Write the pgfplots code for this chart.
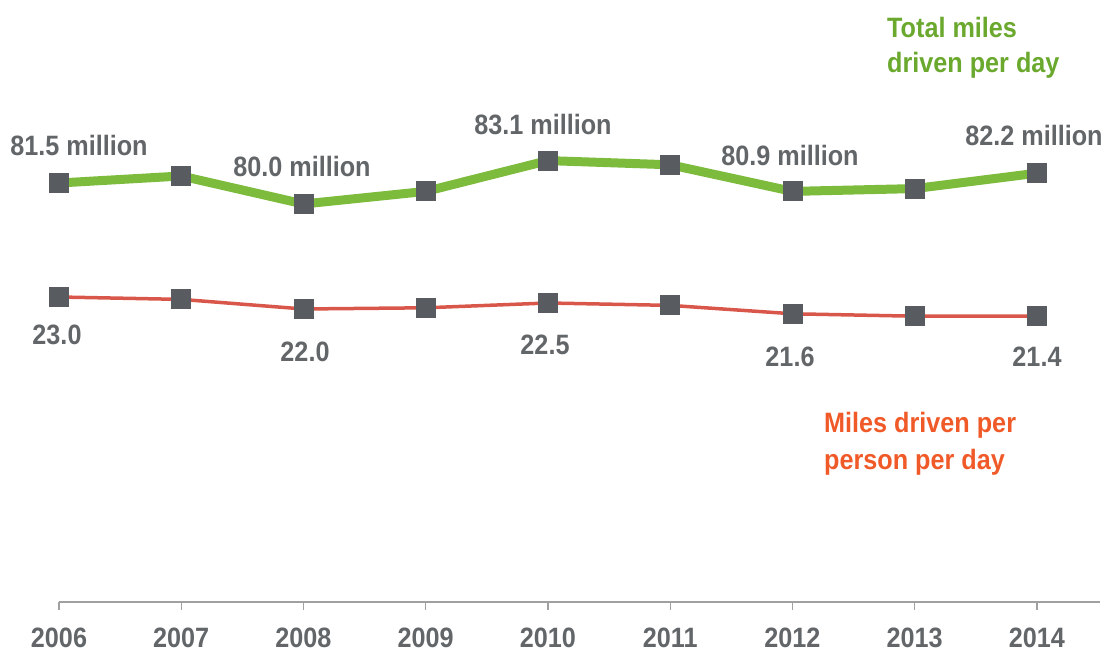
\documentclass[border=0pt]{standalone}
\usepackage{pgfplots}
\pgfplotsset{compat=1.18}
\usepackage{fontspec}
\setmainfont{Liberation Sans}[FakeStretch=0.9]
\definecolor{gline}{HTML}{7CBB3C}
\definecolor{gtext}{HTML}{6AA82E}
\definecolor{rline}{HTML}{D9574A}
\definecolor{otext}{HTML}{F05A28}
\definecolor{mk}{HTML}{585C60}
\definecolor{lbl}{HTML}{636669}
\definecolor{axc}{HTML}{A0A0A0}
\begin{document}
\begin{tikzpicture}[x=1pt,y=1pt]
\useasboundingbox (-59,-55) rectangle (1047,602);
\begin{axis}[
  at={(0,0)}, anchor=south west,
  scale only axis, width=1041pt, height=602pt,
  xmin=2006, xmax=2014.515,
  ymin=51.571, ymax=94.571,
  axis y line=none,
  axis x line*=bottom,
  x axis line style={axc, line width=1.6pt, -},
  xtick={2006,...,2014},
  xticklabels={2006,2007,2008,2009,2010,2011,2012,2013,2014},
  tick align=outside,
  major tick length=8pt,
  xtick style={axc, line width=1.2pt},
  xticklabel style={font=\fontsize{28}{30}\selectfont\bfseries, text=lbl, yshift=-14pt},
  clip=false,
]
\addplot[gline, line width=9pt, mark=square*, mark size=9.5pt, mark options={mk, fill=mk, line width=0pt, draw=mk}]
 coordinates {(2006,81.5) (2007,82.0) (2008,80.0) (2009,80.9) (2010,83.1) (2011,82.8) (2012,80.9) (2013,81.1) (2014,82.2)};
\end{axis}
\begin{axis}[
  at={(0,0)}, anchor=south west,
  scale only axis, width=1041pt, height=602pt,
  xmin=2006, xmax=2014.515,
  ymin=-2.417, ymax=47.75,
  hide axis,
  clip=false,
]
\addplot[rline, line width=3.5pt, mark=square*, mark size=9.5pt, mark options={mk, fill=mk, line width=0pt, draw=mk}]
 coordinates {(2006,23.0) (2007,22.8) (2008,22.0) (2009,22.1) (2010,22.5) (2011,22.3) (2012,21.6) (2013,21.4) (2014,21.4)};
\end{axis}
\begin{scope}[every node/.style={font=\fontsize{28}{30}\selectfont\bfseries, text=lbl, inner sep=0pt}]
\node at (20,457) {81.5 million};
\node at (243,436) {80.0 million};
\node at (484,477) {83.1 million};
\node at (731,447) {80.9 million};
\node at (975,467) {82.2 million};
\node at (-2,267) {23.0};
\node at (246,250) {22.0};
\node at (486,257) {22.5};
\node at (731,245) {21.6};
\node at (978,245) {21.4};
\node[anchor=west, text=gtext] at (828,575) {Total miles};
\node[anchor=west, text=gtext] at (828,537) {driven per day};
\node[anchor=west, text=otext] at (765,177) {Miles driven per};
\node[anchor=west, text=otext] at (765,140) {person per day};
\end{scope}
\end{tikzpicture}
\end{document}
